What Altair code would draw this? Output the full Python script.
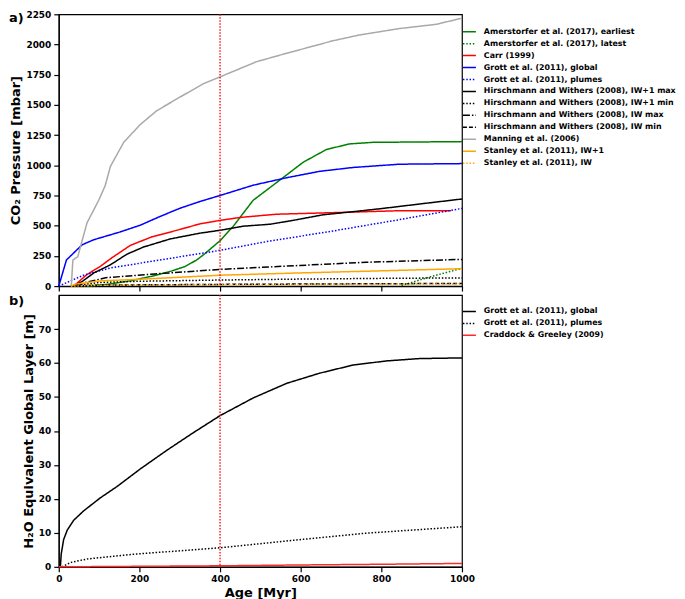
import altair as alt
import pandas as pd

# ---------------- panel a) CO2 pressure [mbar] ----------------
amer_early_x = [70, 124, 180, 231, 280, 313, 342, 363, 400, 433, 482, 556, 606, 664, 721, 779, 1000]
amer_early_y = [0, 16, 45, 82, 125, 162, 216, 270, 376, 496, 710, 897, 1025, 1131, 1177, 1190, 1196]

amer_late_x = [850, 927, 1000]
amer_late_y = [5, 82, 147]

carr_x = [37, 70, 103, 132, 177, 231, 293, 350, 400, 449, 540, 680, 845, 973]
carr_y = [0, 96, 163, 235, 336, 408, 462, 515, 544, 568, 595, 608, 624, 624]

grott_global_x = [0, 19, 58, 87, 152, 202, 251, 301, 350, 400, 482, 565, 647, 730, 845, 1000]
grott_global_y = [0, 216, 342, 384, 448, 504, 576, 645, 700, 750, 835, 897, 950, 982, 1009, 1014]

grott_plumes_x = [0, 62, 128, 251, 400, 515, 680, 845, 1000]
grott_plumes_y = [0, 91, 150, 216, 296, 368, 456, 550, 643]

hw_iw1max_x = [38, 58, 87, 128, 169, 210, 276, 350, 400, 458, 524, 581, 655, 730, 804, 919, 1000]
hw_iw1max_y = [0, 38, 109, 176, 264, 323, 390, 438, 462, 496, 512, 544, 590, 616, 643, 689, 721]

hw_iw1min_x = [30, 100, 200, 400, 600, 800, 1000]
hw_iw1min_y = [0, 30, 40, 50, 58, 64, 68]

hw_iwmax_x = [45, 66, 116, 239, 400, 598, 762, 1000]
hw_iwmax_y = [0, 29, 69, 101, 138, 171, 197, 221]

hw_iwmin_x = [30, 100, 400, 1000]
hw_iwmin_y = [0, 8, 14, 22]

manning_x = [31, 35, 47, 70, 99, 115, 128, 161, 202, 243, 293, 359, 400, 490, 556, 680, 746, 845, 936, 1000]
manning_y = [0, 216, 243, 523, 710, 830, 990, 1190, 1337, 1452, 1550, 1676, 1732, 1857, 1919, 2031, 2079, 2132, 2167, 2218]

stanley_iw1_x = [30, 41, 103, 198, 400, 598, 762, 1000]
stanley_iw1_y = [0, 16, 43, 56, 90, 109, 123, 144]

stanley_iw_x = [30, 100, 400, 1000]
stanley_iw_y = [0, 6, 12, 18]

# ---------------- panel b) H2O equivalent global layer [m] ----------------
grottw_global_x = [4, 6, 12, 21, 37, 62, 103, 144, 202, 268, 334, 400, 482, 565, 647, 730, 812, 894, 1000]
grottw_global_y = [0, 3.7, 8, 10.8, 13.7, 16.5, 20.3, 23.6, 28.8, 34.3, 39.5, 44.5, 49.7, 54, 57, 59.4, 60.6, 61.3, 61.5]

grottw_plumes_x = [8, 30, 70, 185, 400, 598, 762, 1000]
grottw_plumes_y = [0, 1.3, 2.3, 3.7, 5.6, 8.0, 9.9, 11.8]

craddock_x = [0, 200, 400, 600, 800, 1000]
craddock_y = [0, 0.15, 0.3, 0.55, 0.75, 1.0]

marker_age = [400]
x_ticks = [0, 200, 400, 600, 800, 1000]
top_ticks = [0, 250, 500, 750, 1000, 1250, 1500, 1750, 2000, 2250]
bot_ticks = [0, 10, 20, 30, 40, 50, 60, 70]

SOLID = [1, 0]
DOT = [1.5, 1.8]
DASH = [4, 2]
DASHDOT = [7, 2, 1.5, 2]

top_series = [
    ("Amerstorfer et al. (2017), earliest", amer_early_x, amer_early_y, "#008000", SOLID),
    ("Amerstorfer et al. (2017), latest", amer_late_x, amer_late_y, "#008000", DOT),
    ("Carr (1999)", carr_x, carr_y, "#ff0000", SOLID),
    ("Grott et al. (2011), global", grott_global_x, grott_global_y, "#0000ff", SOLID),
    ("Grott et al. (2011), plumes", grott_plumes_x, grott_plumes_y, "#0000ff", DOT),
    ("Hirschmann and Withers (2008), IW+1 max", hw_iw1max_x, hw_iw1max_y, "#000000", SOLID),
    ("Hirschmann and Withers (2008), IW+1 min", hw_iw1min_x, hw_iw1min_y, "#000000", DOT),
    ("Hirschmann and Withers (2008), IW max", hw_iwmax_x, hw_iwmax_y, "#000000", DASHDOT),
    ("Hirschmann and Withers (2008), IW min", hw_iwmin_x, hw_iwmin_y, "#000000", DASH),
    ("Manning et al. (2006)", manning_x, manning_y, "#a9a9a9", SOLID),
    ("Stanley et al. (2011), IW+1", stanley_iw1_x, stanley_iw1_y, "#ffa500", SOLID),
    ("Stanley et al. (2011), IW", stanley_iw_x, stanley_iw_y, "#ffa500", DOT),
]

bot_series = [
    ("Grott et al. (2011), global", grottw_global_x, grottw_global_y, "#000000", SOLID),
    ("Grott et al. (2011), plumes", grottw_plumes_x, grottw_plumes_y, "#000000", DOT),
    ("Craddock & Greeley (2009)", craddock_x, craddock_y, "#ff2a2a", SOLID),
]


def to_df(series):
    frames = []
    for i, (name, xs, ys, _, _) in enumerate(series):
        frames.append(pd.DataFrame({"age": xs, "value": ys, "series": name, "k": i}))
    return pd.concat(frames, ignore_index=True)


top_df = to_df(top_series)
bot_df = to_df(bot_series)
marker_df = pd.DataFrame({"age": marker_age})

W = 405
H = 273
FONT = "DejaVu Sans"


def panel(df, series, ydomain, yticks, ytitle, show_x, leg_y, tag, tag_y):
    names = [s[0] for s in series]
    colors = [s[3] for s in series]
    dashes = [s[4] for s in series]
    legend = alt.Legend(
        title=None, orient="none", legendX=405, legendY=leg_y,
        symbolType="stroke", symbolSize=169, symbolStrokeWidth=1.5,
        labelFont=FONT, labelFontWeight="bold", labelFontSize=7.9,
        labelColor="black", rowPadding=0, labelOffset=7, padding=0,
        labelLimit=300,
    )
    xaxis = alt.Axis(
        values=x_ticks, labels=show_x, title="Age [Myr]" if show_x else None,
        labelFlush=False, tickSize=5, grid=False, format="d",
    )
    lines = alt.Chart(df).mark_line(strokeWidth=1.5).encode(
        x=alt.X("age:Q", scale=alt.Scale(domain=[0, 1000], nice=False), axis=xaxis),
        y=alt.Y("value:Q", scale=alt.Scale(domain=ydomain, nice=False),
                axis=alt.Axis(values=yticks, title=ytitle, grid=False, tickSize=5, format="d")),
        color=alt.Color("series:N", scale=alt.Scale(domain=names, range=colors), legend=legend),
        strokeDash=alt.StrokeDash("series:N", scale=alt.Scale(domain=names, range=dashes), legend=legend),
        order=alt.Order("age:Q"),
    )
    rule = alt.Chart(marker_df).mark_rule(color="#ff0000", strokeWidth=1.3, strokeDash=[1.5, 1.5]).encode(
        x="age:Q"
    )
    label = alt.Chart(pd.DataFrame({"t": [tag]})).mark_text(
        align="left", baseline="middle", font=FONT, fontSize=13, fontWeight="bold", color="black"
    ).encode(text="t:N", x=alt.value(-50), y=alt.value(tag_y))
    return alt.layer(lines, rule, label).properties(width=W, height=H)


top = panel(top_df, top_series, [0, 2250], top_ticks, "CO₂ Pressure [mbar]", False, 10, "a)", 4)
bottom = panel(bot_df, bot_series, [0, 80], bot_ticks, "H₂O Equivalent Global Layer [m]", True, 9, "b)", 6)

chart = alt.vconcat(top, bottom, spacing=0).resolve_scale(
    color="independent", strokeDash="independent"
).resolve_legend(color="independent", strokeDash="independent").properties(
    padding=0
).configure_view(
    stroke="black", strokeWidth=1.2
).configure_axis(
    labelFont=FONT, labelFontWeight="bold", labelFontSize=9, labelColor="black",
    titleFont=FONT, titleFontWeight="bold", titleFontSize=13, titleColor="black",
    domainColor="black", tickColor="black", domainWidth=1.2, tickWidth=1.2,
    labelPadding=3, titlePadding=3,
)

chart.save("out.html", embed_options={"renderer": "svg", "actions": False})
